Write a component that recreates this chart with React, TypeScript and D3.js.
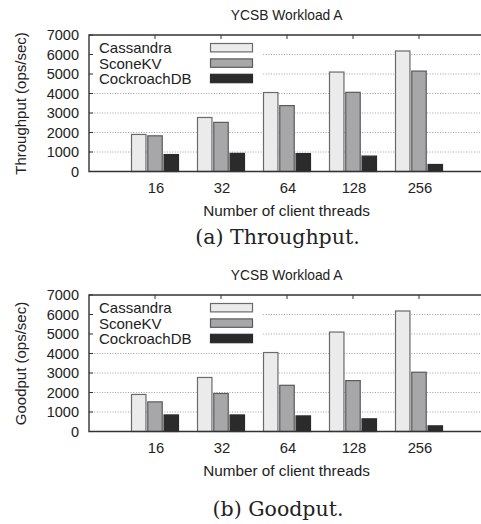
import React from "react";
import * as d3 from "d3";

const categories = ["16", "32", "64", "128", "256"];
const seriesNames = ["Cassandra", "SconeKV", "CockroachDB"];
const throughputCassandra = [1900, 2770, 4050, 5100, 6180];
const throughputScone = [1830, 2520, 3380, 4060, 5150];
const throughputCockroach = [870, 930, 920, 790, 360];
const goodputCassandra = [1900, 2770, 4050, 5100, 6180];
const goodputScone = [1520, 1950, 2370, 2610, 3040];
const goodputCockroach = [850, 850, 800, 650, 290];
const yTicks = [0, 1000, 2000, 3000, 4000, 5000, 6000, 7000];

const fills = ["#ebebeb", "#a7a7a9", "#2b2b2b"];
const strokes = ["#6a6a6a", "#5a5a5a", "#2b2b2b"];
const FONT = "'Liberation Sans', Arial, Helvetica, sans-serif";

type PanelProps = { top: number; yLabel: string; values: number[][] };

function Panel({ top, yLabel, values }: PanelProps) {
  const left = 89;
  const plotTop = top + 35;
  const plotBottom = top + 171.5;
  const x = d3.scaleLinear().domain([-1, 5]).range([left, 485]);
  const y = d3.scaleLinear().domain([0, 7000]).range([plotBottom, plotTop]);
  const inner = d3.scaleBand<string>().domain(seriesNames).range([-24, 24]).paddingInner(0.05);
  const tickLen = 4;
  return (
    <g>
      <text x={286.7} y={top + 20} textAnchor="middle" fontFamily={FONT} fontSize={13.8} fill="#222">
        YCSB Workload A
      </text>
      {/* grid */}
      {yTicks.slice(1, -1).map((t) => (
        <line key={"g" + t} x1={left} x2={481} y1={y(t)} y2={y(t)} stroke="#8a8a8a" strokeWidth={0.8} strokeDasharray="1,1.6" />
      ))}
      {/* legend background */}
      <rect x={left + 1} y={plotTop + 1} width={262 - left - 1} height={50} fill="#fff" />
      {/* ticks */}
      {yTicks.map((t) => (
        <line key={"yt" + t} x1={left} x2={left + tickLen} y1={y(t)} y2={y(t)} stroke="#333" strokeWidth={1} />
      ))}
      {categories.map((c, i) => (
        <g key={"xt" + c}>
          <line x1={x(i)} x2={x(i)} y1={plotTop} y2={plotTop + tickLen} stroke="#333" strokeWidth={1} />
          <line x1={x(i)} x2={x(i)} y1={plotBottom} y2={plotBottom - tickLen} stroke="#333" strokeWidth={1} />
        </g>
      ))}
      {/* bars */}
      {categories.map((c, i) =>
        seriesNames.map((s, k) => {
          const v = values[k][i];
          const bx = x(i) + (inner(s) as number);
          return (
            <rect
              key={c + s}
              x={bx + 0.5}
              y={y(v)}
              width={inner.bandwidth() - 1}
              height={plotBottom - y(v)}
              fill={fills[k]}
              stroke={strokes[k]}
              strokeWidth={1.2}
            />
          );
        })
      )}
      {/* legend */}
      {seriesNames.map((s, k) => {
        const cy = plotTop + 12.7 + k * 15.4;
        return (
          <g key={"lg" + s}>
            <text x={99} y={cy} dominantBaseline="central" fontFamily={FONT} fontSize={15} fill="#222">
              {s}
            </text>
            <rect x={210.5} y={cy - 4.2} width={42} height={8.4} fill={fills[k]} stroke={strokes[k]} strokeWidth={1.2} />
          </g>
        );
      })}
      {/* frame */}
      <path
        d={`M481,${plotTop} H${left} V${plotBottom} H481`}
        fill="none"
        stroke="#333"
        strokeWidth={1.4}
      />
      {/* y tick labels */}
      {yTicks.map((t) => (
        <text key={"yl" + t} x={79} y={y(t)} textAnchor="end" dominantBaseline="central" fontFamily={FONT} fontSize={14.5} fill="#222">
          {t}
        </text>
      ))}
      {/* x tick labels */}
      {categories.map((c, i) => (
        <text key={"xl" + c} x={x(i) + 1} y={top + 193} textAnchor="middle" fontFamily={FONT} fontSize={14.8} fill="#222">
          {c}
        </text>
      ))}
      <text x={286.5} y={top + 216} textAnchor="middle" fontFamily={FONT} fontSize={15.3} fill="#222">
        Number of client threads
      </text>
      <text
        transform={`translate(20,${top + 103.5}) rotate(-90)`}
        textAnchor="middle"
        dominantBaseline="central"
        fontFamily={FONT}
        fontSize={15}
        fill="#222"
      >
        {yLabel}
      </text>
    </g>
  );
}

export default function App() {
  return (
    <svg width={481} height={524} style={{ position: "absolute", left: 0, top: 0, background: "#fff" }}>
      <rect width={481} height={524} fill="#fff" />
      <Panel top={0} yLabel="Throughput (ops/sec)" values={[throughputCassandra, throughputScone, throughputCockroach]} />
      <text x={277.5} y={244} textAnchor="middle" fontFamily="'DejaVu Serif', serif" fontSize={20.5} fill="#222">
        (a) Throughput.
      </text>
      <Panel top={260} yLabel="Goodput (ops/sec)" values={[goodputCassandra, goodputScone, goodputCockroach]} />
      <text x={278} y={516} textAnchor="middle" fontFamily="'DejaVu Serif', serif" fontSize={20.5} fill="#222">
        (b) Goodput.
      </text>
    </svg>
  );
}
